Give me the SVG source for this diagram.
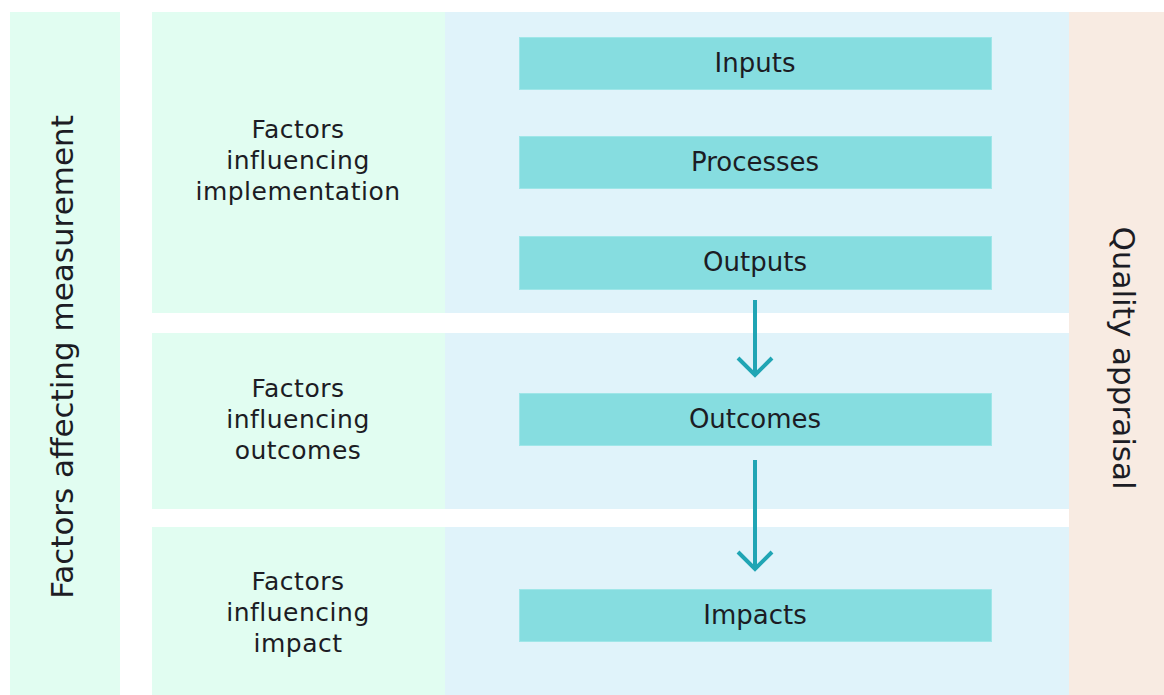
<svg xmlns="http://www.w3.org/2000/svg" width="1164" height="695" viewBox="0 0 1164 695">
<defs>
<style>
.mint{fill:#e1fdf1}
.blue{fill:#e0f3fa}
.peach{fill:#f8ebe2}
.box{fill:#86dde0;stroke:#9fe6e8;stroke-width:1}
.t{font-family:"DejaVu Sans","Liberation Sans",sans-serif;font-size:25px;letter-spacing:0.5px;fill:#1c1c24;text-anchor:middle}
.lbl{font-size:26px;letter-spacing:0}
.big{font-size:31px;letter-spacing:0}
.arr{stroke:#20a5b4;stroke-width:4;fill:none;stroke-linecap:butt}
</style>
</defs>
<rect width="1164" height="695" fill="#ffffff"/>
<g id="panel-measurement">
<rect class="mint" x="10" y="12" width="110" height="683"/>
<text class="t big" transform="translate(73,357) rotate(-90)">Factors affecting measurement</text>
</g>
<g id="panel-quality">
<rect class="peach" x="1069" y="12" width="95" height="683"/>
<text class="t big" transform="translate(1113,358) rotate(90)">Quality appraisal</text>
</g>
<g id="row-implementation">
<rect class="mint" x="152" y="12" width="293" height="301"/>
<rect class="blue" x="445" y="12" width="624" height="301"/>
<text class="t"><tspan x="298" y="138">Factors</tspan><tspan x="298" y="169">influencing</tspan><tspan x="298" y="200">implementation</tspan></text>
</g>
<g id="row-outcomes">
<rect class="mint" x="152" y="333" width="293" height="176"/>
<rect class="blue" x="445" y="333" width="624" height="176"/>
<text class="t"><tspan x="298" y="397">Factors</tspan><tspan x="298" y="428">influencing</tspan><tspan x="298" y="459">outcomes</tspan></text>
</g>
<g id="row-impact">
<rect class="mint" x="152" y="527" width="293" height="168"/>
<rect class="blue" x="445" y="527" width="624" height="168"/>
<text class="t"><tspan x="298" y="590">Factors</tspan><tspan x="298" y="621">influencing</tspan><tspan x="298" y="652">impact</tspan></text>
</g>
<g id="node-inputs">
<rect class="box" x="519.5" y="37.5" width="472" height="52"/>
<text class="t lbl" x="755" y="72">Inputs</text>
</g>
<g id="node-processes">
<rect class="box" x="519.5" y="136.5" width="472" height="52"/>
<text class="t lbl" x="755" y="171">Processes</text>
</g>
<g id="node-outputs">
<rect class="box" x="519.5" y="236.5" width="472" height="53"/>
<text class="t lbl" x="755" y="271">Outputs</text>
</g>
<g id="node-outcomes">
<rect class="box" x="519.5" y="393.5" width="472" height="52"/>
<text class="t lbl" x="755" y="428">Outcomes</text>
</g>
<g id="node-impacts">
<rect class="box" x="519.5" y="589.5" width="472" height="52"/>
<text class="t lbl" x="755" y="624">Impacts</text>
</g>
<g id="connectors">
<line class="arr" x1="755" y1="300" x2="755" y2="375"/>
<polyline class="arr" points="738,358 755,375 772,358"/>
<line class="arr" x1="755" y1="460" x2="755" y2="569"/>
<polyline class="arr" points="738,552 755,569 772,552"/>
</g>
</svg>
